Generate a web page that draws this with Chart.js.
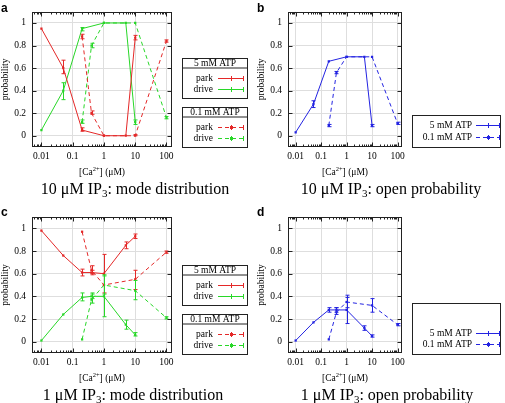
<!DOCTYPE html>
<html>
<head>
<meta charset="utf-8">
<script src="https://cdn.jsdelivr.net/npm/chart.js@4.4.1/dist/chart.umd.min.js"></script>
<style>
    body { margin: 0; background: #fff; width: 505px; height: 403px; overflow: hidden; position: relative; }
    canvas { position: absolute; }
</style>
</head>
<body>
<canvas id="panelA" width="252" height="200" style="left:0;top:0"></canvas>
<canvas id="panelB" width="253" height="200" style="left:252px;top:0"></canvas>
<canvas id="panelC" width="252" height="203" style="left:0;top:200px"></canvas>
<canvas id="panelD" width="253" height="203" style="left:252px;top:200px"></canvas>
<script>
// axis ticks
const xTicks = [0.01, 0.1, 1, 10, 100];
const yTicks = [0, 0.2, 0.4, 0.6, 0.8, 1];

// [Ca2+] in uM
const caFull = [0.01, 0.05, 0.2, 1, 5, 10];
const caFullC = [0.01, 0.05, 0.2, 0.4, 1, 5, 10];
const caLowAtp = [0.2, 0.4, 1, 10, 100];

// a: 10 uM IP3, mode distribution
const parkA5 = [0.95, 0.60, 0.05, 0.00, 0.00, 0.87];
const parkA5Err = [null, [0.55, 0.67], [0.04, 0.07], null, null, [0.85, 0.89]];
const driveA5 = [0.05, 0.40, 0.95, 1.00, 1.00, 0.12];
const driveA5Err = [null, [0.32, 0.47], [0.93, 0.96], null, null, [0.10, 0.14]];
const parkA01 = [0.88, 0.20, 0.00, 0.00, 0.84];
const parkA01Err = [[0.86, 0.90], [0.19, 0.22], null, [0.00, 0.01], [0.83, 0.85]];
const driveA01 = [0.12, 0.80, 1.00, 1.00, 0.16];
const driveA01Err = [[0.11, 0.14], [0.78, 0.82], null, null, [0.15, 0.17]];

// b: 10 uM IP3, open probability
const openB5 = [0.03, 0.28, 0.66, 0.70, 0.70, 0.09];
const openB5Err = [null, [0.25, 0.31], null, null, null, [0.08, 0.10]];
const openB01 = [0.09, 0.56, 0.70, 0.70, 0.11];
const openB01Err = [[0.08, 0.10], [0.55, 0.57], null, null, [0.10, 0.12]];

// c: 1 uM IP3, mode distribution
const parkC5 = [0.98, 0.76, 0.61, 0.61, 0.60, 0.85, 0.93];
const parkC5Err = [null, null, [0.58, 0.64], [0.59, 0.63], [0.43, 0.77], [0.82, 0.88], [0.91, 0.95]];
const driveC5 = [0.01, 0.24, 0.39, 0.40, 0.40, 0.15, 0.06];
const driveC5Err = [null, null, [0.36, 0.43], [0.38, 0.42], [0.22, 0.59], [0.11, 0.19], [0.05, 0.08]];
const parkC01 = [0.97, 0.63, 0.50, 0.55, 0.79];
const parkC01Err = [null, [0.60, 0.67], null, [0.46, 0.63], [0.78, 0.80]];
const driveC01 = [0.02, 0.37, 0.50, 0.45, 0.21];
const driveC01Err = [null, [0.34, 0.43], [0.42, 0.58], [0.37, 0.54], [0.20, 0.22]];

// d: 1 uM IP3, open probability
const openD5 = [0.01, 0.17, 0.28, 0.28, 0.28, 0.12, 0.05];
const openD5Err = [null, null, [0.26, 0.30], [0.26, 0.30], [0.16, 0.39], [0.10, 0.14], [0.04, 0.06]];
const openD01 = [0.02, 0.26, 0.35, 0.32, 0.15];
const openD01Err = [null, [0.24, 0.30], [0.30, 0.41], [0.26, 0.38], [0.14, 0.16]];

const RED = 'rgb(228, 40, 40)';
const GREEN = 'rgb(40, 215, 40)';
const BLUE = 'rgb(35, 35, 225)';
const SERIF = '"Liberation Serif", "DejaVu Serif", serif';

function series(label, xs, ys, errs, color, dashed) {
    return {
        label: label,
        data: xs.map((x, i) => ({ x: x, y: ys[i] })),
        errors: errs,
        borderColor: color,
        backgroundColor: color,
        borderWidth: 1,
        borderDash: dashed ? [4, 3] : [],
        pointStyle: 'rect',
        pointRadius: 1.6,
        pointBorderWidth: 0,
        tension: 0
    };
}

// text with sub/superscripts: parts = [[text, size, dy], ...]
function richText(ctx, parts, x, y, align) {
    let total = 0;
    parts.forEach(p => { ctx.font = p[1] + 'px ' + SERIF; total += ctx.measureText(p[0]).width; });
    let cx = align === 'center' ? x - total / 2 : (align === 'right' ? x - total : x);
    ctx.textAlign = 'left';
    ctx.textBaseline = 'alphabetic';
    parts.forEach(p => {
        ctx.font = p[1] + 'px ' + SERIF;
        ctx.fillText(p[0], cx, y + (p[2] || 0));
        cx += ctx.measureText(p[0]).width;
    });
}

function sampleLine(ctx, x0, x1, y, color, dashed) {
    ctx.save();
    ctx.strokeStyle = color;
    ctx.fillStyle = color;
    ctx.lineWidth = 1;
    ctx.setLineDash(dashed ? [4, 3] : []);
    ctx.beginPath(); ctx.moveTo(x0, y + 0.5); ctx.lineTo(x1, y + 0.5); ctx.stroke();
    ctx.setLineDash([]);
    ctx.beginPath();
    ctx.moveTo(x1 - 0.5, y - 2); ctx.lineTo(x1 - 0.5, y + 3);
    const mx = Math.round((x0 + x1) / 2);
    ctx.moveTo(mx + 0.5, y - 2); ctx.lineTo(mx + 0.5, y + 3);
    ctx.stroke();
    if (dashed) ctx.fillRect(mx - 1, y - 1, 3, 3);
    ctx.restore();
}

const panelDecor = {
    id: 'panelDecor',
    afterDatasetsDraw(chart) {
        const ctx = chart.ctx;
        const area = chart.chartArea;
        const xs = chart.scales.x, ys = chart.scales.y;
        // error bars
        chart.data.datasets.forEach(ds => {
            if (!ds.errors) return;
            ctx.save();
            ctx.strokeStyle = ds.borderColor;
            ctx.lineWidth = 1;
            ds.data.forEach((p, i) => {
                const e = ds.errors[i];
                if (!e) return;
                const px = Math.round(xs.getPixelForValue(p.x)) + 0.5;
                const lo = ys.getPixelForValue(e[0]);
                const hi = ys.getPixelForValue(e[1]);
                ctx.beginPath();
                ctx.moveTo(px, lo); ctx.lineTo(px, hi);
                ctx.moveTo(px - 2, lo); ctx.lineTo(px + 2, lo);
                ctx.moveTo(px - 2, hi); ctx.lineTo(px + 2, hi);
                ctx.stroke();
            });
            ctx.restore();
        });
        // frame and inward ticks
        const l = Math.round(area.left) + 0.5, r = Math.round(area.right) - 0.5;
        const t = Math.round(area.top) + 0.5, b = Math.round(area.bottom) - 0.5;
        ctx.save();
        ctx.strokeStyle = '#222';
        ctx.lineWidth = 1;
        ctx.strokeRect(l, t, r - l, b - t);
        ctx.beginPath();
        for (let dec = 0.001; dec <= 100; dec *= 10) {
            for (let m = 1; m <= 9; m++) {
                const v = dec * m;
                if (v < xs.min || v > xs.max) continue;
                const len = m === 1 ? 4 : 2;
                const px = Math.round(xs.getPixelForValue(v)) + 0.5;
                ctx.moveTo(px, b); ctx.lineTo(px, b - len);
                ctx.moveTo(px, t); ctx.lineTo(px, t + len);
            }
        }
        yTicks.forEach(v => {
            const py = Math.round(ys.getPixelForValue(v)) + 0.5;
            ctx.moveTo(l, py); ctx.lineTo(l + 4, py);
            ctx.moveTo(r, py); ctx.lineTo(r - 4, py);
        });
        ctx.stroke();
        ctx.restore();
    },
    afterDraw(chart, args, opts) {
        const ctx = chart.ctx;
        const area = chart.chartArea;
        ctx.save();
        ctx.fillStyle = '#000';
        // panel letter
        ctx.font = 'bold 12px "Liberation Sans", Arial, sans-serif';
        ctx.textAlign = 'left';
        ctx.textBaseline = 'alphabetic';
        ctx.fillText(opts.letter, opts.letterX, opts.letterY);
        // y label
        ctx.save();
        ctx.translate(area.left - 27, (area.top + area.bottom) / 2);
        ctx.rotate(-Math.PI / 2);
        ctx.font = '9.5px ' + SERIF;
        ctx.textAlign = 'center';
        ctx.textBaseline = 'middle';
        ctx.fillText('probability', 0, 0);
        ctx.restore();
        // x label
        richText(ctx, [['[Ca', 9.5], ['2+', 6.5, -4], ['] (μM)', 9.5]],
            (area.left + area.right) / 2, opts.xLabelY, 'center');
        // title
        richText(ctx, [[opts.ip3 + ' μM IP', 16], ['3', 11, 3], [': ' + opts.title, 16]],
            opts.titleX, opts.titleY, 'center');
        // legend boxes
        ctx.strokeStyle = '#222';
        ctx.lineWidth = 1;
        opts.boxes.forEach(bx => {
            ctx.strokeRect(bx.l + 0.5, bx.t + 0.5, bx.r - bx.l, bx.b - bx.t);
            if (bx.header) {
                ctx.beginPath();
                ctx.moveTo(bx.l, bx.sep + 0.5); ctx.lineTo(bx.r, bx.sep + 0.5);
                ctx.stroke();
                ctx.font = '9.5px ' + SERIF;
                ctx.textAlign = 'center';
                ctx.textBaseline = 'middle';
                ctx.fillStyle = '#000';
                ctx.fillText(bx.header, (bx.l + bx.r) / 2 + 0.5, (bx.t + bx.sep) / 2 + 1);
            }
            bx.entries.forEach(en => {
                ctx.font = '9.5px ' + SERIF;
                ctx.textAlign = 'right';
                ctx.textBaseline = 'middle';
                ctx.fillStyle = '#000';
                ctx.fillText(en.text, bx.textR, en.y);
                sampleLine(ctx, bx.s0, bx.s1, en.y, en.color, en.dashed);
            });
        });
        ctx.restore();
    }
};

function makePanel(id, datasets, pad, decor) {
    new Chart(document.getElementById(id), {
        type: 'line',
        data: { datasets: datasets },
        options: {
            responsive: false,
            animation: false,
            layout: { padding: pad },
            plugins: {
                legend: { display: false },
                tooltip: { enabled: false },
                panelDecor: decor
            },
            scales: {
                x: {
                    type: 'logarithmic',
                    min: 0.005,
                    max: 150,
                    afterBuildTicks: s => { s.ticks = xTicks.map(v => ({ value: v })); },
                    afterFit: s => { s.height = 20; },
                    grid: { color: '#dedede', lineWidth: 1, drawTicks: false },
                    border: { display: false },
                    ticks: {
                        padding: 4,
                        color: '#000',
                        font: { family: SERIF, size: 9.5 },
                        callback: v => String(v),
                        maxRotation: 0,
                        autoSkip: false
                    }
                },
                y: {
                    type: 'linear',
                    min: -0.1,
                    max: 1.1,
                    afterBuildTicks: s => { s.ticks = yTicks.map(v => ({ value: v })); },
                    afterFit: s => { s.width = pad.yw; },
                    grid: { color: '#dedede', lineWidth: 1, drawTicks: false },
                    border: { display: false },
                    ticks: {
                        padding: 6,
                        color: '#000',
                        font: { family: SERIF, size: 9.5 },
                        callback: v => String(v)
                    }
                }
            }
        },
        plugins: [panelDecor]
    });
}

function modeBoxes(top) {
    const mk = (t, header, dashed) => ({
        l: 182, r: 247, t: t, b: t + 40, sep: t + 9.5, header: header,
        textR: 213, s0: 218, s1: 244,
        entries: [
            { text: 'park', y: t + 20, color: RED, dashed: dashed },
            { text: 'drive', y: t + 31, color: GREEN, dashed: dashed }
        ]
    });
    return [mk(top, '5 mM ATP', false), mk(top + 49, '0.1 mM ATP', true)];
}

function openBox(t, b, y1, y2) {
    return [{
        l: 160, r: 248, t: t, b: b, header: null,
        textR: 220, s0: 224, s1: 248,
        entries: [
            { text: '5 mM ATP', y: y1, color: BLUE, dashed: false },
            { text: '0.1 mM ATP', y: y2, color: BLUE, dashed: true }
        ]
    }];
}

makePanel('panelA', [
    series('park 5 mM', caFull, parkA5, parkA5Err, RED, false),
    series('drive 5 mM', caFull, driveA5, driveA5Err, GREEN, false),
    series('park 0.1 mM', caLowAtp, parkA01, parkA01Err, RED, true),
    series('drive 0.1 mM', caLowAtp, driveA01, driveA01Err, GREEN, true)
], { left: 0, top: 10, right: 80, bottom: 33, yw: 32 }, {
    letter: 'a', letterX: 1, letterY: 12, ip3: '10', title: 'mode distribution',
    xLabelY: 175, titleX: 135, titleY: 194, boxes: modeBoxes(58)
});

makePanel('panelB', [
    series('5 mM ATP', caFull, openB5, openB5Err, BLUE, false),
    series('0.1 mM ATP', caLowAtp, openB01, openB01Err, BLUE, true)
], { left: 0, top: 10, right: 103, bottom: 33, yw: 36 }, {
    letter: 'b', letterX: 5, letterY: 12, ip3: '10', title: 'open probability',
    xLabelY: 175, titleX: 139, titleY: 194, boxes: openBox(115, 147, 125, 137)
});

makePanel('panelC', [
    series('park 5 mM', caFullC, parkC5, parkC5Err, RED, false),
    series('drive 5 mM', caFullC, driveC5, driveC5Err, GREEN, false),
    series('park 0.1 mM', caLowAtp, parkC01, parkC01Err, RED, true),
    series('drive 0.1 mM', caLowAtp, driveC01, driveC01Err, GREEN, true)
], { left: 0, top: 17, right: 80, bottom: 30, yw: 32 }, {
    letter: 'c', letterX: 1, letterY: 16, ip3: '1', title: 'mode distribution',
    xLabelY: 181, titleX: 133, titleY: 200, boxes: modeBoxes(65)
});

makePanel('panelD', [
    series('5 mM ATP', caFullC, openD5, openD5Err, BLUE, false),
    series('0.1 mM ATP', caLowAtp, openD01, openD01Err, BLUE, true)
], { left: 0, top: 17, right: 103, bottom: 30, yw: 36 }, {
    letter: 'd', letterX: 5, letterY: 16, ip3: '1', title: 'open probability',
    xLabelY: 181, titleX: 135, titleY: 200, boxes: openBox(103, 154, 133, 144)
});
</script>
</body>
</html>
